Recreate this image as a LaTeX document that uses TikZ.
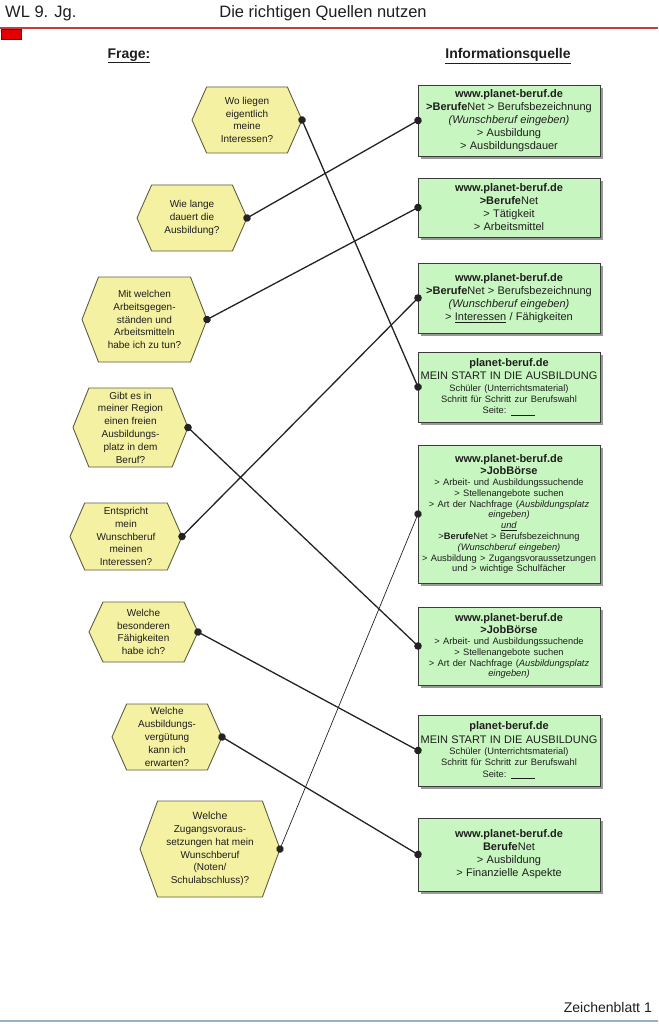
\documentclass[tikz,border=0pt]{standalone}
\usepackage{fontspec}
\setmainfont{Liberation Sans}
\usetikzlibrary{arrows.meta,shadows,backgrounds}
\definecolor{hexfill}{RGB}{245,241,162}
\definecolor{hexline}{RGB}{95,95,70}
\definecolor{boxfill}{RGB}{200,246,192}
\definecolor{boxline}{RGB}{60,60,60}
\definecolor{txt}{RGB}{30,30,30}
\definecolor{conncol}{RGB}{35,35,35}
\definecolor{redline}{RGB}{200,60,60}
\definecolor{redbox}{RGB}{228,0,0}
\definecolor{bottomline}{RGB}{150,178,200}
\newcommand\fT{\fontsize{11}{13}\selectfont}
\newcommand\fS{\fontsize{9.3}{10.8}\selectfont}
\newcommand\fM{\fontsize{9.3}{11.2}\selectfont}
\newcommand\hexq[5]{%
  \node[qtext, minimum width=#3pt, minimum height=#4pt] (#1) at (#2) {#5};
  \begin{pgfonlayer}{background}
  \pgfmathsetmacro\hxi{8+0.1*#4}
  \fill[black!25, xshift=2pt, yshift=-2pt] (#1.west) -- ([xshift=\hxi pt]#1.north west) -- ([xshift=-\hxi pt]#1.north east) -- (#1.east) -- ([xshift=-\hxi pt]#1.south east) -- ([xshift=\hxi pt]#1.south west) -- cycle;
  \draw[qhex] (#1.west) -- ([xshift=\hxi pt]#1.north west) -- ([xshift=-\hxi pt]#1.north east) -- (#1.east) -- ([xshift=-\hxi pt]#1.south east) -- ([xshift=\hxi pt]#1.south west) -- cycle;
  \end{pgfonlayer}}
\begin{document}
\begin{tikzpicture}[x=1pt,y=-1pt,
  qtext/.style={inner sep=0pt, outer sep=0pt, align=center, text=txt,
    font=\fontsize{10}{12.8}\selectfont},
  qhex/.style={draw=hexline, fill=hexfill, line width=0.9pt, line join=round},
  src/.style={draw=boxline, fill=boxfill, line width=0.8pt, inner xsep=0pt,
    inner ysep=2pt, outer sep=0pt, text width=182pt, minimum width=182pt,
    align=center, text=txt,
    drop shadow={shadow xshift=3pt, shadow yshift=-3pt, fill=black!40, opacity=1}},
  conn/.style={draw=conncol, line width=1.3pt,
    {Circle[length=7.5pt]}-{Circle[length=7.5pt]},
    shorten <=-3.75pt, shorten >=-3.75pt},
  thinconn/.style={conn, line width=0.7pt},
  hdr/.style={inner sep=0pt, text=txt},
]
\useasboundingbox (0,0) rectangle (658,1024);

% header
\node[hdr, anchor=west, font=\fontsize{16.5}{18}\selectfont] (wl) at (5,13) {WL 9. Jg.};
\node[hdr, font=\fontsize{16.5}{18}\selectfont] (title) at (323,13) {Die richtigen Quellen nutzen};
\draw[redline, line width=1.2pt] (0,28) -- (658,28);
\node[draw=red!50!black, fill=redbox, line width=0.6pt, minimum width=20pt, minimum height=10pt, inner sep=0pt] (mark) at (11,34) {};
\node[hdr, font=\fontsize{14}{16}\selectfont\bfseries] (frage) at (129,56) {\underline{Frage:}};
\node[hdr, font=\fontsize{14}{16}\selectfont\bfseries] (info) at (508,56) {\underline{Informationsquelle}};

% questions
\hexq{q1}{247,120}{110}{66}{Wo liegen\\eigentlich\\meine\\Interessen?}
\hexq{q2}{192,218}{110}{66}{Wie lange\\dauert die\\Ausbildung?}
\hexq{q3}{144.5,319.5}{125}{85}{Mit welchen\\Arbeitsgegen-\\ständen und\\Arbeitsmitteln\\habe ich zu tun?}
\hexq{q4}{130.5,427.5}{115}{79}{Gibt es in\\meiner Region\\einen freien\\Ausbildungs-\\platz in dem\\Beruf?}
\hexq{q5}{126,536.5}{112}{67}{Entspricht\\mein\\Wunschberuf\\meinen\\Interessen?}
\hexq{q6}{143.5,632}{109}{60}{Welche\\besonderen\\Fähigkeiten\\habe ich?}
\hexq{q7}{167,737}{110}{66}{Welche\\Ausbildungs-\\vergütung\\kann ich\\erwarten?}
\hexq{q8}{210,849}{140}{96}{\fontsize{10.5}{13}\selectfont Welche\\Zugangsvoraus-\\setzungen hat mein\\Wunschberuf\\(Noten/\\Schulabschluss)?}

% sources
\node[src, minimum height=71pt] (s1) at (509,120.5) {\fT\textbf{www.planet-beruf.de}\par
  \textbf{>Berufe}Net > Berufsbezeichnung\par
  \textit{(Wunschberuf eingeben)}\par
  > Ausbildung\par > Ausbildungsdauer\par};
\node[src, minimum height=59pt] (s2) at (509,207.5) {\fT\textbf{www.planet-beruf.de}\par
  \textbf{>Berufe}Net\par > Tätigkeit\par > Arbeitsmittel\par};
\node[src, minimum height=70pt] (s3) at (509,298) {\fT\textbf{www.planet-beruf.de}\par
  \textbf{>Berufe}Net > Berufsbezeichnung\par
  \textit{(Wunschberuf eingeben)}\par
  > \underline{Interessen} / Fähigkeiten\par};
\node[src, minimum height=70pt] (s4) at (509,387) {{\fontsize{11}{13.5}\selectfont\textbf{planet-beruf.de}\par
  MEIN START IN DIE AUSBILDUNG\par}
  {\fM Schüler (Unterrichtsmaterial)\par Schritt für Schritt zur Berufswahl\par Seite: \underline{\hspace{24pt}}\par}};
\node[src, minimum height=138pt] (s5) at (509,514) {{\fontsize{11}{12.5}\selectfont\textbf{www.planet-beruf.de}\par
  \textbf{>JobBörse}\par}
  {\fS > Arbeit- und Ausbildungssuchende\par
  > Stellenangebote suchen\par
  > Art der Nachfrage (\textit{Ausbildungsplatz}\par
  \textit{eingeben)}\par
  \underline{\textit{und}}\par
  >\textbf{Berufe}Net > Berufsbezeichnung\par
  \textit{(Wunschberuf eingeben)}\par
  > Ausbildung > Zugangsvoraussetzungen\par
  und > wichtige Schulfächer\par}};
\node[src, minimum height=78pt] (s6) at (509,646) {{\fontsize{11}{12.5}\selectfont\textbf{www.planet-beruf.de}\par
  \textbf{>JobBörse}\par}
  {\fS > Arbeit- und Ausbildungssuchende\par
  > Stellenangebote suchen\par
  > Art der Nachfrage (\textit{Ausbildungsplatz}\par
  \textit{eingeben)}\par}};
\node[src, minimum height=71pt] (s7) at (509,750.5) {{\fontsize{11}{13.5}\selectfont\textbf{planet-beruf.de}\par
  MEIN START IN DIE AUSBILDUNG\par}
  {\fM Schüler (Unterrichtsmaterial)\par Schritt für Schritt zur Berufswahl\par Seite: \underline{\hspace{24pt}}\par}};
\node[src, minimum height=73pt] (s8) at (509,854.5) {\fT\textbf{www.planet-beruf.de}\par
  \textbf{Berufe}Net\par > Ausbildung\par > Finanzielle Aspekte\par};

% connectors
\draw[conn] (q1.east) -- (s4.west);
\draw[conn] (q2.east) -- (s1.west);
\draw[conn] (q3.east) -- (s2.west);
\draw[conn] (q4.east) -- (s6.west);
\draw[conn] (q5.east) -- (s3.west);
\draw[conn] (q6.east) -- (s7.west);
\draw[conn] (q7.east) -- (s8.west);
\draw[thinconn] (q8.east) -- (s5.west);

% footer
\node[hdr, anchor=east, font=\fontsize{14}{16}\selectfont] (blatt) at (652,1007) {Zeichenblatt 1};
\draw[bottomline, line width=2pt] (0,1021) -- (658,1021);
\end{tikzpicture}
\end{document}
